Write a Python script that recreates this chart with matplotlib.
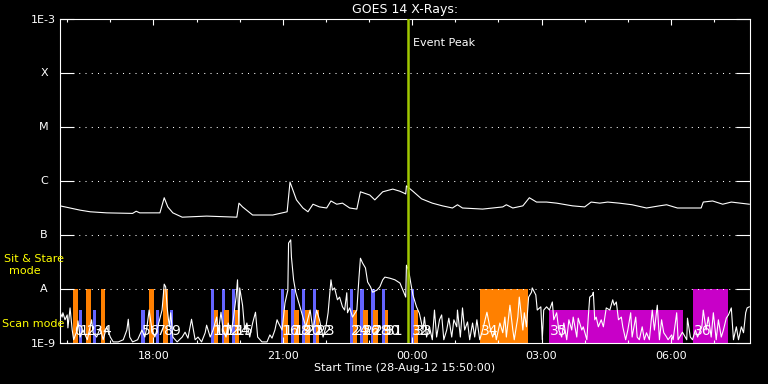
import matplotlib
matplotlib.use('Agg')
import matplotlib.pyplot as plt
import numpy as np

# temps en minutes depuis le debut (28-Aug-12 15:50:00), flux en log10(W/m2)
long_t = [0, 14, 28, 42, 65, 101, 106, 111, 139, 145, 150, 157, 170, 204, 246, 249, 254, 268,
          296, 316, 320, 329, 338, 345, 352, 361, 371, 377, 385, 393, 403, 413, 418, 431, 438,
          449, 463, 473, 478, 481, 482, 491, 503, 518, 532, 546, 553, 560, 588, 616, 621, 630,
          644, 653, 663, 677, 691, 713, 730, 739, 751, 762, 778, 796, 816, 834, 844, 859, 892,
          895, 908, 922, 934, 959]
long_log = [-6.46, -6.50, -6.54, -6.57, -6.59, -6.60, -6.56, -6.59, -6.59, -6.31, -6.48, -6.59,
            -6.67, -6.65, -6.67, -6.41, -6.48, -6.63, -6.63, -6.57, -6.02, -6.35, -6.50, -6.57,
            -6.43, -6.48, -6.50, -6.37, -6.43, -6.41, -6.50, -6.52, -6.20, -6.26, -6.35, -6.20,
            -6.15, -6.19, -6.22, -6.24, -6.09, -6.19, -6.33, -6.41, -6.46, -6.50, -6.44, -6.50,
            -6.52, -6.48, -6.44, -6.50, -6.46, -6.31, -6.39, -6.39, -6.41, -6.46, -6.48, -6.39,
            -6.41, -6.39, -6.41, -6.44, -6.50, -6.46, -6.44, -6.50, -6.50, -6.39, -6.37, -6.43,
            -6.39, -6.43]

short_t = [0, 3, 4, 7, 10, 11, 14, 17, 19, 24, 25, 28, 32, 38, 44, 46, 51, 56, 60, 65, 70, 74,
           81, 88, 93, 95, 97, 101, 108, 114, 118, 121, 124, 128, 132, 136, 142, 145, 147, 149,
           152, 154, 157, 163, 170, 174, 178, 183, 188, 192, 197, 202, 204, 209, 213, 218, 220,
           224, 227, 231, 234, 238, 241, 245, 247, 249, 250, 254, 257, 260, 264, 268, 272, 275,
           281, 288, 292, 295, 299, 302, 304, 309, 313, 317, 318, 321, 322, 325, 328, 331, 335,
           338, 342, 348, 352, 357, 361, 366, 370, 373, 377, 379, 382, 386, 389, 393, 396, 399,
           400, 403, 407, 413, 416, 418, 421, 425, 428, 432, 435, 441, 445, 449, 452, 459, 466,
           473, 477, 481, 482, 485, 488, 491, 496, 500, 505, 507, 510, 514, 518, 521, 524, 528,
           531, 534, 538, 541, 545, 548, 552, 553, 557, 560, 563, 567, 570, 574, 577, 580, 584,
           588, 594, 598, 602, 605, 607, 612, 616, 619, 621, 626, 630, 632, 637, 639, 644, 646,
           649, 652, 656, 657, 662, 664, 669, 671, 673, 677, 681, 685, 687, 691, 694, 698, 701,
           705, 708, 712, 714, 719, 721, 726, 728, 733, 735, 737, 741, 742, 744, 746, 749, 753,
           756, 760, 765, 769, 771, 774, 777, 781, 783, 787, 790, 794, 796, 801, 803, 806, 810,
           813, 816, 820, 824, 827, 831, 834, 837, 840, 844, 846, 851, 853, 858, 860, 866, 872,
           873, 877, 880, 884, 887, 893, 895, 899, 902, 906, 909, 913, 916, 920, 923, 927, 930,
           934, 937, 941, 944, 948, 951, 954, 956, 959]
short_log = [-8.43, -8.52, -8.44, -8.57, -8.48, -8.72, -8.35, -8.76, -8.94, -8.76, -8.59, -8.89,
             -8.76, -8.94, -8.57, -8.81, -8.89, -8.72, -8.94, -8.70, -8.89, -8.98, -8.98, -8.94,
             -8.76, -8.56, -8.89, -8.98, -8.94, -8.76, -8.89, -8.70, -8.39, -8.76, -8.89, -8.70,
             -8.39, -7.91, -7.96, -8.33, -8.70, -8.44, -8.89, -8.98, -8.89, -8.80, -8.91, -8.56,
             -8.94, -8.89, -8.98, -8.81, -8.67, -8.89, -8.76, -8.52, -8.81, -8.43, -8.76, -8.89,
             -8.63, -8.81, -8.57, -8.15, -7.83, -8.76, -7.98, -8.30, -8.76, -8.63, -8.89, -8.63,
             -8.43, -8.89, -8.98, -8.98, -8.85, -8.91, -8.76, -8.57, -8.63, -8.76, -8.26, -8.02,
             -7.15, -7.09, -7.41, -7.83, -8.06, -8.20, -8.39, -8.52, -8.70, -8.39, -8.76, -8.39,
             -8.57, -8.89, -8.70, -8.44, -7.83, -8.02, -7.98, -8.20, -8.15, -8.33, -8.39, -8.07,
             -8.44, -8.35, -8.52, -8.39, -7.78, -7.43, -7.52, -7.61, -7.87, -7.96, -8.06, -8.02,
             -7.96, -7.83, -7.78, -7.80, -7.83, -7.89, -8.02, -8.15, -7.56, -7.65, -7.89, -8.11,
             -8.33, -8.45, -8.76, -8.52, -8.89, -8.70, -8.94, -8.39, -8.89, -8.57, -8.48, -8.94,
             -8.76, -8.54, -8.89, -8.57, -8.70, -8.39, -8.89, -8.35, -8.76, -8.61, -8.94, -8.63,
             -8.89, -8.57, -8.94, -8.76, -8.43, -8.70, -8.89, -8.76, -8.94, -8.63, -8.81, -8.52,
             -8.89, -8.30, -8.76, -8.94, -8.52, -8.15, -8.76, -8.44, -8.70, -8.15, -8.06, -7.98,
             -8.11, -8.39, -8.33, -8.94, -8.39, -8.33, -8.39, -8.24, -8.57, -8.44, -8.76, -8.89,
             -8.63, -8.94, -8.57, -8.76, -8.52, -8.89, -8.54, -8.76, -8.70, -8.94, -8.52, -8.15,
             -8.11, -8.06, -8.57, -8.52, -8.70, -8.57, -8.70, -8.35, -8.39, -8.20, -8.30, -8.24,
             -8.57, -8.52, -8.70, -8.94, -8.76, -8.44, -8.89, -8.52, -8.89, -8.94, -8.70, -8.94,
             -8.81, -8.94, -8.39, -8.76, -8.30, -8.94, -8.57, -8.81, -8.89, -8.94, -8.85, -8.94,
             -8.44, -8.94, -8.80, -8.94, -8.54, -8.89, -8.94, -8.76, -8.89, -8.70, -8.39, -8.76,
             -8.52, -8.89, -8.44, -8.94, -8.57, -8.89, -8.76, -8.54, -8.48, -8.35, -8.94, -8.70,
             -8.94, -8.70, -8.81, -8.44, -8.35, -8.33]

# observations (debut, fin en minutes), couleur, mode
bar_start = [18, 26, 36, 46, 57, 113, 124, 133, 143, 153, 210, 214, 225, 228, 239, 243,
             307, 310, 322, 325, 336, 341, 352, 356, 403, 407, 418, 421, 432, 436, 448, 452,
             488, 492, 584, 680, 880]
bar_end = [25, 31, 43, 50, 63, 118, 131, 138, 150, 157, 214, 220, 229, 235, 243, 249,
           311, 317, 327, 332, 341, 348, 356, 361, 407, 413, 423, 428, 438, 443, 452, 457,
           492, 498, 651, 867, 929]
bar_col = ['o', 'b', 'o', 'b', 'o', 'b', 'o', 'b', 'o', 'b', 'b', 'o', 'b', 'o', 'b', 'o',
           'b', 'o', 'b', 'o', 'b', 'o', 'b', 'o', 'b', 'o', 'b', 'o', 'b', 'o', 'b', 'o',
           'b', 'o', 'o', 'm', 'm']
bar_mode = ['sit', 'scan', 'sit', 'scan', 'sit', 'scan', 'sit', 'scan', 'sit', 'scan',
            'sit', 'scan', 'sit', 'scan', 'sit', 'scan', 'sit', 'scan', 'sit', 'scan',
            'sit', 'scan', 'sit', 'scan', 'sit', 'scan', 'sit', 'scan', 'sit', 'scan',
            'sit', 'scan', 'sit', 'scan', 'sit', 'scan', 'sit']
bar_lab = ['0', '1', '2', '3', '4', '5', '6', '7', '8', '9', '10', '11', '12', '13', '14',
           '15', '16', '17', '18', '19', '20', '21', '22', '23', '24', '25', '26', '27', '28',
           '29', '30', '31', '32', '33', '34', '35', '36']

peak_t = 484
xtick_pos = [130, 310, 490, 670, 850]
xtick_lab = ['18:00', '21:00', '00:00', '03:00', '06:00']
xminor_pos = [10, 70, 190, 250, 370, 430, 550, 610, 730, 790, 910]
ytick_pos = [1e-9, 1e-8, 1e-7, 1e-6, 1e-5, 1e-4, 1e-3]
ytick_lab = ['1E-9', '', '', '', '', '', '1E-3']
class_pos = [1e-4, 1e-5, 1e-6, 1e-7, 1e-8]
class_lab = ['X', 'M', 'C', 'B', 'A']

couleurs = {'o': '#ff8000', 'b': '#6464ff', 'm': '#c800c8'}
hauts = {'sit': 1e-8, 'scan': 10 ** -8.39}

fig = plt.figure(figsize=(7.68, 3.84), dpi=100, facecolor='black')
ax = fig.add_axes([60 / 768, 1 - 343 / 384, 690 / 768, 324 / 384])
ax.set_facecolor('black')
ax.set_yscale('log')

for i in range(len(bar_start)):
    ax.bar(bar_start[i], hauts[bar_mode[i]] - 1e-9, width=bar_end[i] - bar_start[i],
           bottom=1e-9, align='edge', color=couleurs[bar_col[i]], linewidth=0, zorder=1)

for i in range(len(bar_start)):
    ax.text(bar_start[i] + 1.5, 10 ** -8.78, bar_lab[i], color='white', fontsize=10,
            ha='left', va='center', zorder=4)

ax.plot(long_t, 10 ** np.array(long_log), color='white', lw=0.8, zorder=3)
ax.plot(short_t, 10 ** np.array(short_log), color='white', lw=0.8, zorder=3)

for y in class_pos:
    ax.axhline(y, color='white', lw=0.75, linestyle=(0, (1, 5)), zorder=2)
ax.axvline(peak_t, color='#a0c800', lw=1.8, zorder=5)
ax.text(peak_t + 7, 10 ** -3.45, 'Event Peak', color='white', fontsize=8, va='center')

ax.set_xlim(0, 960)
ax.set_ylim(1e-9, 1e-3)
ax.set_xticks(xtick_pos)
ax.set_xticklabels(xtick_lab)
ax.set_xticks(xminor_pos, minor=True)
ax.set_yticks(ytick_pos)
ax.set_yticklabels(ytick_lab)
ax.yaxis.set_minor_locator(matplotlib.ticker.NullLocator())
ax.tick_params(axis='x', which='major', direction='in', length=4.5, top=True, color='white',
               labelcolor='white', labelsize=8, pad=6, width=0.8)
ax.tick_params(axis='x', which='minor', direction='in', length=2.2, top=True, color='white',
               width=0.8)
ax.tick_params(axis='y', direction='in', length=10, right=True, color='white',
               labelcolor='white', labelsize=8, pad=3, width=0.8)
for s in ax.spines.values():
    s.set_color('white')
    s.set_linewidth(0.8)

for y, lab in zip(class_pos, class_lab):
    ax.text(-16 / 690, y, lab, color='white', fontsize=8, ha='center', va='center',
            transform=ax.get_yaxis_transform())

fig.text(405 / 768, 1 - 9 / 384, 'GOES 14 X-Rays:', color='white', fontsize=9,
         ha='center', va='center')
fig.text(405 / 768, 1 - 368 / 384, 'Start Time (28-Aug-12 15:50:00)', color='white',
         fontsize=8, ha='center', va='center')
fig.text(34 / 768, 1 - 259 / 384, 'Sit & Stare', color='yellow', fontsize=8,
         ha='center', va='center')
fig.text(25 / 768, 1 - 271 / 384, 'mode', color='yellow', fontsize=8, ha='center', va='center')
fig.text(2 / 768, 1 - 324 / 384, 'Scan mode', color='yellow', fontsize=8, ha='left',
         va='center')

fig.savefig('out.png', dpi=100, facecolor='black')
